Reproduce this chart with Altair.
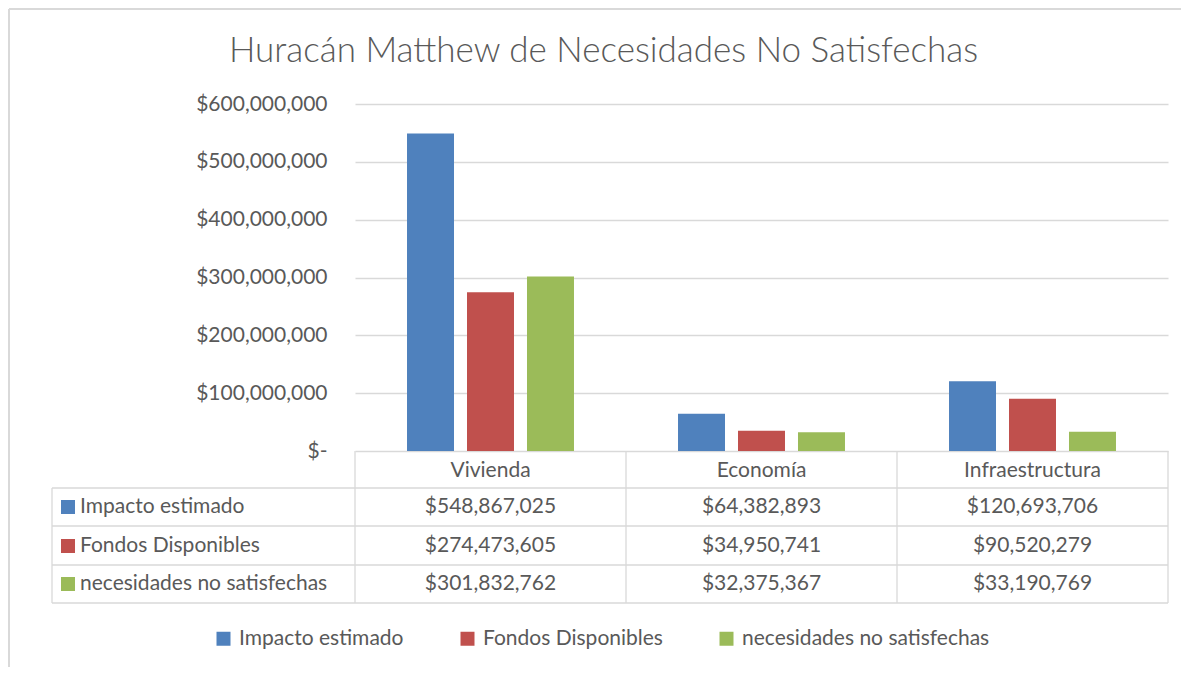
import altair as alt
import pandas as pd

# ---------------- data ----------------
categories = ["Vivienda", "Economía", "Infraestructura"]
series = ["Impacto estimado", "Fondos Disponibles", "necesidades no satisfechas"]
impacto = [548867025, 64382893, 120693706]
fondos = [274473605, 34950741, 90520279]
necesidades = [301832762, 32375367, 33190769]
y_ticks = [0, 100000000, 200000000, 300000000, 400000000, 500000000, 600000000]
colors = ["#4f81bd", "#c0504d", "#9bbb59"]
title_text = "Huracán Matthew de Necesidades No Satisfechas"

rows = []
for s, vals in zip(series, [impacto, fondos, necesidades]):
    for c, v in zip(categories, vals):
        rows.append({"categoria": c, "serie": s, "valor": v})
df = pd.DataFrame(rows)

# ---------------- style / layout ----------------
FONT = "Lato"
TXT = "#595959"
GRID = "#d9d9d9"
W, H = 813, 347
LAB = 21
row_y = [403, 442, 480]          # row centres of the data table (relative to plot top)
row_lines = [384, 422, 461, 499]  # horizontal table borders
left_x = -303                     # left edge of the table

base = alt.Chart(df)

color = alt.Color(
    "serie:N", sort=series,
    scale=alt.Scale(domain=series, range=colors),
    legend=alt.Legend(
        title=None, orient="none", legendX=-142, legendY=524, direction="horizontal",
        symbolType="square", symbolSize=196, symbolStrokeWidth=0, symbolOffset=0,
        labelFont=FONT, labelFontSize=LAB, labelColor=TXT, labelOffset=5,
        columnPadding=53, labelLimit=500,
    ),
)

xenc = alt.X(
    "categoria:N", sort=categories,
    scale=alt.Scale(paddingInner=0, paddingOuter=0),
    axis=alt.Axis(title=None, labelAngle=0, domain=False, ticks=False, grid=False,
                  labelFont=FONT, labelFontSize=LAB, labelColor=TXT, labelPadding=8),
)

nbsp = "\u00a0"
bars = base.mark_bar().encode(
    x=xenc,
    xOffset=alt.XOffset("serie:N", sort=series,
                        scale=alt.Scale(paddingInner=0.2167, paddingOuter=0.867)),
    y=alt.Y("valor:Q", scale=alt.Scale(domain=[0, 600000000], nice=False),
            axis=alt.Axis(title=None, values=y_ticks, domain=False, ticks=False,
                          grid=True, gridColor=GRID, gridWidth=1.3,
                          labelFont=FONT, labelFontSize=LAB, labelColor=TXT, labelPadding=28,
                          labelExpr="datum.value == 0 ? '$-" + nbsp + nbsp + "' : '$' + format(datum.value, ',')")),
    color=color,
)

layers = [bars]

# table values
for i, s in enumerate(series):
    layers.append(
        base.transform_filter(alt.datum.serie == s)
        .mark_text(font=FONT, fontSize=LAB, color=TXT, baseline="middle")
        .encode(x=alt.X("categoria:N", sort=categories),
                y=alt.value(row_y[i]),
                text=alt.Text("valor:Q", format="$,.0f"))
    )

# table row labels with swatches
ser_df = pd.DataFrame({"serie": series})
for i, s in enumerate(series):
    sub = alt.Chart(ser_df).transform_filter(alt.datum.serie == s)
    layers.append(sub.mark_square(size=196, opacity=1, strokeWidth=0).encode(
        x=alt.value(-287), y=alt.value(row_y[i]), color=color))
    layers.append(sub.mark_text(font=FONT, fontSize=LAB, color=TXT, align="left", baseline="middle").encode(
        x=alt.value(-275), y=alt.value(row_y[i]), text="serie:N"))

# table grid lines
one = alt.Chart(pd.DataFrame({"k": [0]}))
for yy in row_lines:
    layers.append(one.mark_rule(color=GRID, strokeWidth=1.3).encode(
        x=alt.value(left_x), x2=alt.value(W), y=alt.value(yy)))
layers.append(one.mark_rule(color=GRID, strokeWidth=1.3).encode(
    x=alt.value(left_x), y=alt.value(row_lines[0]), y2=alt.value(row_lines[-1])))
layers.append(one.mark_rule(color=GRID, strokeWidth=1.3).encode(
    x=alt.value(W), y=alt.value(H), y2=alt.value(row_lines[-1])))
cat_df = pd.DataFrame({"categoria": categories})
layers.append(alt.Chart(cat_df).mark_rule(color=GRID, strokeWidth=1.3).encode(
    x=alt.X("categoria:N", sort=categories, bandPosition=0),
    y=alt.value(H), y2=alt.value(row_lines[-1])))

# chart frame (left and top edges)
layers.append(one.mark_rule(color=GRID, strokeWidth=2).encode(
    x=alt.value(-346), y=alt.value(-95), y2=alt.value(H + 230)))
layers.append(one.mark_rule(color=GRID, strokeWidth=2).encode(
    x=alt.value(-346), x2=alt.value(W + 20), y=alt.value(-95)))

chart = alt.layer(*layers).properties(
    width=W, height=H,
    title=alt.Title(title_text, font=FONT, fontSize=35, fontWeight=300, color=TXT,
                    anchor="middle", dx=-158, offset=0, dy=61),
    autosize=alt.AutoSizeParams(type="none"),
    padding={"left": 347, "top": 96, "right": 13, "bottom": 216},
).configure_view(stroke=None)

chart.save("out.html", embed_options={"renderer": "svg", "actions": False})
